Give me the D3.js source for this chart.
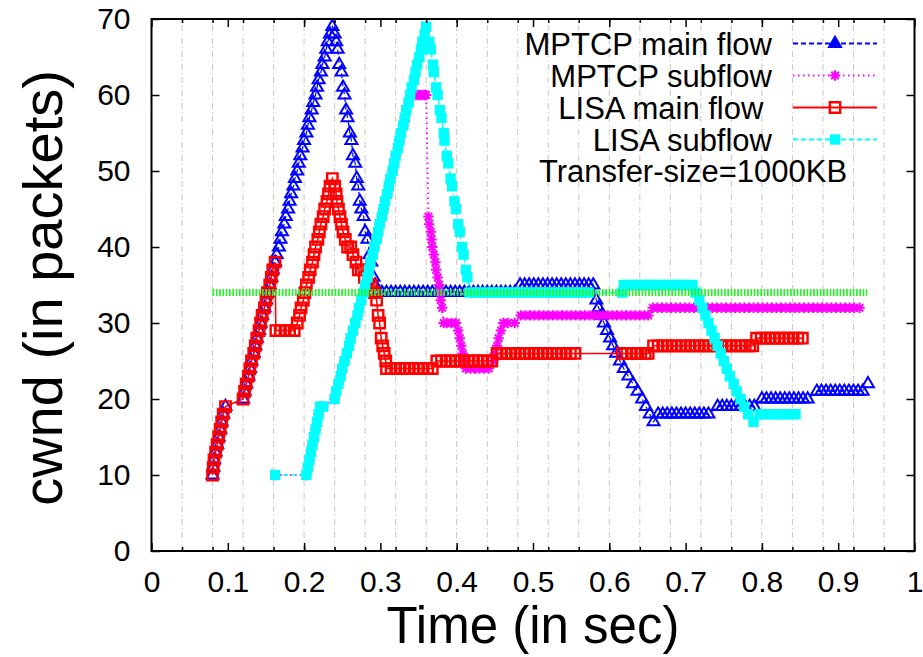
<!DOCTYPE html>
<html>
<head>
<meta charset="utf-8">
<script src="https://d3js.org/d3.v7.min.js"></script>
<style>
  body { margin: 0; background: #fff; }
  svg text { font-family: "Liberation Sans", Arial, Helvetica, sans-serif; fill: #000; }
</style>
</head>
<body>
<script>
// ---- data : [time (s), cwnd (packets)] ----
const rampMain = [
  [0.080,10],[0.081,11],[0.082,12],[0.084,13],[0.086,14],[0.088,15],[0.090,16],[0.092,17],[0.094,18],[0.097,19],
  [0.120,20],[0.122,21],[0.124,22],[0.127,23],[0.129,24],[0.131,25],[0.134,26],[0.136,27],[0.138,28],[0.141,29],
  [0.143,30],[0.145,31],[0.148,32],[0.150,33],[0.152,34],[0.155,35],[0.157,36],[0.159,37],[0.162,38]
];
const rampSub = [
  [0.162,10],[0.203,10],[0.205,11],[0.207,12],[0.209,13],[0.211,14],[0.213,15],[0.215,16],[0.217,17],[0.219,18],[0.221,19],[0.225,19],
  [0.240,20],[0.242,21],[0.245,22],[0.248,23],[0.250,24],[0.253,25],[0.256,26],[0.259,27],[0.261,28],[0.264,29],
  [0.267,30],[0.270,31],[0.272,32],[0.275,33],[0.278,34],[0.280,35],[0.283,36],[0.285,37],[0.287,38],[0.290,39],
  [0.292,40],[0.295,41],[0.297,42],[0.299,43],[0.302,44],[0.304,45],[0.306,46],[0.309,47],[0.311,48],[0.313,49],
  [0.316,50],[0.318,51],[0.320,52],[0.323,53],[0.325,54],[0.327,55],[0.330,56],[0.332,57],[0.334,58],[0.337,59],[0.339,60]
];
const mptcpMainTail = [
  [0.164,39],[0.167,40],[0.169,41],[0.171,42],[0.174,43],[0.176,44],[0.179,45],[0.181,46],[0.183,47],[0.186,48],
  [0.188,49],[0.191,50],[0.193,51],[0.195,52],[0.198,53],[0.200,54],[0.203,55],[0.205,56],[0.207,57],[0.210,58],
  [0.212,59],[0.215,60],[0.217,61],[0.219,62],[0.222,63],[0.224,64],[0.227,65],[0.229,66],[0.231,67],[0.234,68],[0.237,69],
  [0.240,68],[0.242,67],[0.244,66],[0.246,64],[0.249,63],[0.251,61],[0.253,60],[0.255,58],[0.257,57],[0.260,55],
  [0.262,54],[0.264,52],[0.267,51],[0.269,49],[0.271,48],[0.273,46],[0.275,45],[0.278,44],[0.280,42],[0.283,41],
  [0.286,39],[0.288,38],[0.291,36],[0.293,35],
  [0.296,34],[0.302,34],[0.308,34],[0.314,34],[0.320,34],[0.326,34],[0.332,34],[0.338,34],[0.344,34],[0.350,34],
  [0.356,34],[0.362,34],[0.368,34],[0.374,34],[0.380,34],[0.386,34],[0.392,34],[0.398,34],[0.404,34],[0.410,34],
  [0.416,34],[0.422,34],[0.428,34],[0.434,34],[0.440,34],[0.446,34],[0.452,34],[0.458,34],[0.464,34],[0.470,34],[0.476,34],
  [0.483,35],[0.489,35],[0.495,35],[0.501,35],[0.507,35],[0.513,35],[0.519,35],[0.525,35],[0.531,35],[0.537,35],
  [0.543,35],[0.549,35],[0.555,35],[0.561,35],[0.567,35],[0.573,35],
  [0.579,35],[0.583,33],[0.586,32],[0.590,31],[0.593,30],[0.597,29],[0.601,28],[0.605,27],[0.609,26],[0.614,25],
  [0.619,24],[0.625,23],[0.631,22],[0.637,21],[0.643,20],[0.648,19],[0.653,18],[0.658,17],
  [0.664,18],[0.670,18],[0.676,18],[0.682,18],[0.688,18],[0.694,18],[0.700,18],[0.706,18],[0.712,18],[0.718,18],[0.724,18],[0.730,18],
  [0.742,19],[0.748,19],[0.754,19],[0.760,19],[0.766,19],[0.772,19],[0.778,19],[0.784,19],[0.790,19],
  [0.800,20],[0.806,20],[0.812,20],[0.818,20],[0.824,20],[0.830,20],[0.836,20],[0.842,20],[0.848,20],[0.854,20],[0.860,20],
  [0.872,21],[0.878,21],[0.884,21],[0.890,21],[0.896,21],[0.902,21],[0.908,21],[0.914,21],[0.920,21],[0.926,21],[0.932,21],
  [0.939,22]
];
const mptcpSubTail = [
  [0.343,60],[0.346,60],[0.349,60],[0.352,60],[0.355,60],[0.358,60],[0.360,60],
  [0.363,44],[0.364,43],[0.366,42],[0.367,41],[0.368,40],[0.370,39],[0.372,38],[0.373,37],[0.375,36],[0.377,35],
  [0.378,34],[0.379,33],[0.381,32],[0.383,30],[0.387,30],[0.393,30],[0.399,30],
  [0.402,29],[0.404,28],[0.406,27],[0.408,26],[0.410,25],[0.412,24],[0.418,24],[0.424,24],[0.430,24],[0.436,24],[0.442,24],
  [0.448,25],[0.450,26],[0.453,27],[0.455,28],[0.458,29],[0.461,30],[0.467,30],[0.476,30],
  [0.484,31],[0.490,31],[0.496,31],[0.502,31],[0.508,31],[0.514,31],[0.520,31],[0.526,31],[0.532,31],[0.538,31],
  [0.544,31],[0.550,31],[0.556,31],[0.562,31],[0.568,31],[0.574,31],[0.580,31],[0.586,31],[0.592,31],[0.598,31],
  [0.604,31],[0.610,31],[0.616,31],[0.622,31],[0.628,31],[0.634,31],[0.640,31],[0.646,31],[0.651,31],
  [0.657,32],[0.663,32],[0.669,32],[0.675,32],[0.681,32],[0.687,32],[0.693,32],[0.699,32],[0.705,32],[0.711,32],
  [0.717,32],[0.723,32],[0.729,32],[0.735,32],[0.741,32],[0.747,32],[0.753,32],[0.759,32],[0.765,32],[0.771,32],
  [0.777,32],[0.783,32],[0.789,32],[0.795,32],[0.801,32],[0.807,32],[0.813,32],[0.819,32],[0.825,32],[0.831,32],
  [0.837,32],[0.843,32],[0.849,32],[0.855,32],[0.861,32],[0.867,32],[0.873,32],[0.879,32],[0.885,32],[0.891,32],
  [0.897,32],[0.903,32],[0.909,32],[0.915,32],[0.921,32],[0.928,32]
];
const lisaMainTail = [
  [0.163,29],[0.169,29],[0.175,29],[0.181,29],[0.187,29],
  [0.191,30],[0.194,31],[0.196,32],[0.199,33],[0.201,34],[0.203,35],[0.206,36],[0.208,37],[0.211,38],[0.213,39],
  [0.215,40],[0.218,41],[0.220,42],[0.222,43],[0.225,44],[0.227,45],[0.230,46],[0.232,47],[0.234,48],[0.237,49],
  [0.240,48],[0.242,47],[0.243,46],[0.245,45],[0.247,44],[0.249,43],[0.251,42],[0.254,41],[0.257,40],[0.261,40],
  [0.264,39],[0.268,38],[0.271,37],[0.275,37],[0.279,36],[0.284,35],[0.288,35],[0.292,34],[0.295,33],[0.297,31],
  [0.299,30],[0.301,28],[0.303,27],[0.305,26],[0.307,25],[0.308,24],
  [0.314,24],[0.320,24],[0.326,24],[0.332,24],[0.338,24],[0.344,24],[0.350,24],[0.356,24],[0.362,24],[0.368,24],
  [0.374,25],[0.380,25],[0.386,25],[0.392,25],[0.398,25],[0.404,25],[0.410,25],[0.416,25],[0.422,25],[0.428,25],[0.434,25],[0.440,25],[0.446,25],
  [0.453,26],[0.459,26],[0.465,26],[0.471,26],[0.477,26],[0.483,26],[0.489,26],[0.495,26],[0.501,26],[0.507,26],
  [0.513,26],[0.519,26],[0.525,26],[0.531,26],[0.537,26],[0.543,26],[0.549,26],[0.555,26],
  [0.617,26],[0.623,26],[0.629,26],[0.635,26],[0.641,26],[0.647,26],[0.651,26],
  [0.658,27],[0.664,27],[0.670,27],[0.676,27],[0.682,27],[0.688,27],[0.694,27],[0.700,27],[0.706,27],[0.712,27],
  [0.718,27],[0.724,27],[0.730,27],[0.736,27],[0.742,27],[0.748,27],[0.754,27],[0.760,27],[0.766,27],[0.772,27],[0.778,27],[0.784,27],[0.788,27],
  [0.793,28],[0.799,28],[0.805,28],[0.811,28],[0.817,28],[0.823,28],[0.829,28],[0.835,28],[0.841,28],[0.847,28],[0.853,28]
];
const lisaSubTail = [
  [0.341,61],[0.344,62],[0.346,63],[0.348,64],[0.351,65],[0.353,66],[0.355,67],[0.358,68],[0.360,69],
  [0.364,67],[0.366,66],[0.369,64],[0.370,63],[0.373,61],[0.375,60],[0.378,58],[0.380,57],[0.383,55],[0.384,54],
  [0.387,52],[0.389,51],[0.392,49],[0.394,48],[0.397,46],[0.399,45],[0.402,43],[0.404,42],[0.407,40],[0.409,39],
  [0.412,37],[0.414,36],
  [0.417,34],[0.423,34],[0.429,34],[0.435,34],[0.441,34],[0.447,34],[0.453,34],[0.459,34],[0.465,34],[0.471,34],
  [0.477,34],[0.483,34],[0.489,34],[0.495,34],[0.501,34],[0.507,34],[0.513,34],[0.519,34],[0.525,34],[0.531,34],
  [0.537,34],[0.543,34],[0.549,34],[0.555,34],[0.561,34],[0.567,34],[0.573,34],
  [0.617,34],[0.619,35],[0.625,35],[0.631,35],[0.637,35],[0.643,35],[0.649,35],[0.655,35],[0.661,35],[0.667,35],
  [0.673,35],[0.679,35],[0.685,35],[0.691,35],[0.697,35],[0.703,35],[0.709,35],
  [0.713,34],[0.718,33],[0.722,32],[0.726,31],[0.730,30],[0.734,29],[0.738,28],[0.742,27],[0.746,26],[0.750,25],
  [0.754,24],[0.758,23],[0.763,22],[0.767,21],[0.772,20],[0.777,19],[0.782,18],[0.789,17],
  [0.797,18],[0.803,18],[0.809,18],[0.815,18],[0.821,18],[0.827,18],[0.833,18],[0.839,18],[0.844,18]
];
const threshold = [[0.080,34],[0.938,34]];

const seriesNames = ["MPTCP main flow", "MPTCP subflow", "LISA main flow ", "LISA subflow"];
const noteText = "Transfer-size=1000KB";
const xTicks = [0, 0.1, 0.2, 0.3, 0.4, 0.5, 0.6, 0.7, 0.8, 0.9, 1];
const xMinorTicks = [0.04,0.08,0.12,0.16,0.2,0.24,0.28,0.32,0.36,0.4,0.44,0.48,0.52,0.56,0.6,0.64,0.68,0.72,0.76,0.8,0.84,0.88,0.92,0.96];
const yTicks = [0, 10, 20, 30, 40, 50, 60, 70];
const xTitle = "Time (in sec)";
const yTitle = "cwnd (in packets)";

const w = 923;
const h = 657;
const margin = {top: 19, right: 8.5, bottom: 106, left: 151.5};

function render(){
  const svg = d3.select("body")
                .append("svg")
                .attr("width", w)
                .attr("height", h);

  const x = d3.scaleLinear().domain([0, 1]).range([margin.left, w - margin.right]);
  const y = d3.scaleLinear().domain([0, 70]).range([h - margin.bottom, margin.top]);

  // vertical grid
  svg.append("g").selectAll("line")
     .data(xMinorTicks).enter().append("line")
     .attr("x1", d => x(d)).attr("x2", d => x(d))
     .attr("y1", y(0)).attr("y2", y(70))
     .attr("stroke", "#c6c6c6").attr("stroke-width", 1)
     .attr("stroke-dasharray", "6,3,1,3");

  const symbols = {
    triangle: "M0,-6.8L6,3.4L-6,3.4Z",
    star: "M-5.2,0H5.2M0,-5.2V5.2M-3.7,-3.7L3.7,3.7M-3.7,3.7L3.7,-3.7",
    square: "M-5.2,-5.2H5.2V5.2H-5.2Z"
  };

  const series = [
    {name: seriesNames[0], data: rampMain.concat(mptcpMainTail), color: "#0000ff", dash: "5,3", lw: 1.2, sym: "triangle", fill: "none", sw: 2},
    {name: seriesNames[1], data: rampSub.concat(mptcpSubTail), color: "#ff00ff", dash: "1.5,3.5", lw: 1.8, sym: "star", fill: "none", sw: 2},
    {name: seriesNames[2], data: rampMain.concat(lisaMainTail), color: "#ff0000", dash: null, lw: 1.5, sym: "square", fill: "none", sw: 2.4},
    {name: seriesNames[3], data: rampSub.concat(lisaSubTail), color: "#00ffff", dash: "5,3", lw: 1.5, sym: "square", fill: "#00ffff", sw: 0}
  ];

  const line = d3.line().x(d => x(d[0])).y(d => y(d[1]));

  series.forEach(function(s){
    const g = svg.append("g");
    g.append("path").datum(s.data)
     .attr("d", line)
     .attr("fill", "none")
     .attr("stroke", s.color)
     .attr("stroke-width", s.lw)
     .attr("stroke-dasharray", s.dash);
    g.selectAll(".pt").data(s.data).enter().append("path")
     .classed("pt", true)
     .attr("transform", d => "translate(" + x(d[0]) + "," + y(d[1]) + ")")
     .attr("d", symbols[s.sym])
     .attr("fill", s.fill)
     .attr("stroke", s.sw ? s.color : "none")
     .attr("stroke-width", s.sw);
  });

  // green reference level
  svg.append("path").datum(threshold)
     .attr("d", line)
     .attr("fill", "none")
     .attr("stroke", "#2af02a")
     .attr("stroke-width", 7)
     .attr("stroke-dasharray", "1.7,1.6");

  // axes
  const fontFamily = '"Liberation Sans", Arial, Helvetica, sans-serif';
  function styleAxis(g){
    g.select(".domain").remove();
    g.attr("font-family", fontFamily).attr("font-size", 30);
    g.selectAll(".tick line").attr("stroke", "#000").attr("stroke-width", 1.5);
  }
  svg.append("g").attr("transform", "translate(0," + y(0) + ")")
     .call(d3.axisBottom(x).tickValues(xTicks).tickSize(-8).tickPadding(20).tickFormat(d => String(d)))
     .call(styleAxis);
  svg.append("g").attr("transform", "translate(0," + y(0) + ")")
     .call(d3.axisBottom(x).tickValues(xMinorTicks).tickSize(-4).tickFormat(""))
     .call(styleAxis);
  svg.append("g").attr("transform", "translate(0," + y(70) + ")")
     .call(d3.axisTop(x).tickValues(xTicks).tickSize(-8).tickFormat(""))
     .call(styleAxis);
  svg.append("g").attr("transform", "translate(0," + y(70) + ")")
     .call(d3.axisTop(x).tickValues(xMinorTicks).tickSize(-4).tickFormat(""))
     .call(styleAxis);
  svg.append("g").attr("transform", "translate(" + x(0) + ",0)")
     .call(d3.axisLeft(y).tickValues(yTicks).tickSize(-8).tickPadding(21))
     .call(styleAxis);
  svg.append("g").attr("transform", "translate(" + x(1) + ",0)")
     .call(d3.axisRight(y).tickValues(yTicks).tickSize(-8).tickFormat(""))
     .call(styleAxis);

  // frame
  svg.append("rect")
     .attr("x", x(0)).attr("y", y(70))
     .attr("width", x(1) - x(0)).attr("height", y(0) - y(70))
     .attr("fill", "none").attr("stroke", "#000").attr("stroke-width", 2);

  // legend
  const legend = svg.append("g").attr("font-size", 31);
  series.forEach(function(s, i){
    const ly = 43.5 + i * 32;
    legend.append("text")
          .attr("x", 772).attr("y", ly + 11)
          .attr("text-anchor", "end")
          .style("white-space", "pre")
          .text(s.name);
    legend.append("line")
          .attr("x1", 793).attr("x2", 877).attr("y1", ly).attr("y2", ly)
          .attr("stroke", s.color).attr("stroke-width", 2)
          .attr("stroke-dasharray", s.dash);
    legend.append("path")
          .attr("transform", "translate(835," + ly + ")")
          .attr("d", symbols[s.sym])
          .attr("fill", s.sym === "triangle" ? s.color : s.fill)
          .attr("stroke", s.sw ? s.color : "none")
          .attr("stroke-width", s.sw);
  });
  legend.append("text")
        .attr("x", 693).attr("y", 182)
        .attr("text-anchor", "middle")
        .text(noteText);

  // axis titles
  svg.append("text")
     .attr("x", (x(0) + x(1)) / 2).attr("y", 643)
     .attr("text-anchor", "middle")
     .attr("font-size", 51)
     .text(xTitle);
  svg.append("text")
     .attr("transform", "translate(62," + (y(35) + 3) + ") rotate(-90)")
     .attr("text-anchor", "middle")
     .attr("font-size", 56)
     .text(yTitle);
}

render();
</script>
</body>
</html>
